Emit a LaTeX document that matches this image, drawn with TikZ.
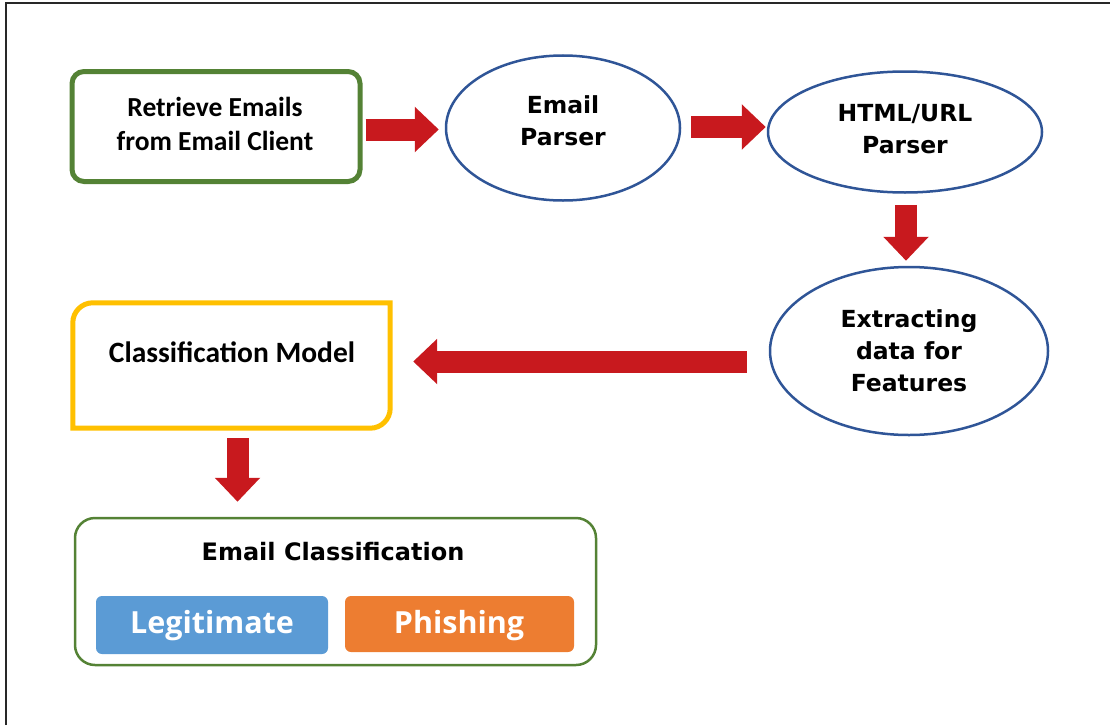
\documentclass[tikz,border=0pt]{standalone}
\usepackage{fontspec}
\usetikzlibrary{shapes.geometric,arrows.meta}
\newfontfamily\vfont{DejaVu Sans}
\newfontfamily\cfont{Carlito}
\newfontfamily\ofont{Open Sans}
\definecolor{grn}{RGB}{84,130,53}
\definecolor{blu}{RGB}{47,85,151}
\definecolor{rd}{RGB}{200,25,30}
\definecolor{ylw}{RGB}{255,192,0}
\definecolor{lblue}{RGB}{91,155,213}
\definecolor{orng}{RGB}{237,125,49}
\definecolor{frm}{RGB}{40,40,40}
\tikzset{
  vtext/.style={font=\vfont\bfseries\fontsize{23.5}{32}\selectfont, align=center},
  ell/.style={ellipse, draw=blu, line width=2.5pt, inner sep=0pt},
  barrow/.style={draw=rd, line width=22pt, -{Triangle[length=24pt,width=44pt]}},
  pill/.style={rounded corners=6pt, inner sep=0pt, text=white, font=\ofont\bfseries\fontsize{30.5}{32}\selectfont},
}
\begin{document}
\begin{tikzpicture}[x=1pt,y=-1pt]
\useasboundingbox (0,0) rectangle (1110,725);
\draw[frm, line width=1.5pt] (6,725) -- (6,3) -- (1110,3);
% nodes
\node[draw=grn, line width=5pt, rounded corners=12pt, minimum width=288pt, minimum height=110pt] (ret) at (216,126.5) {};
\node[align=center, font=\cfont\bfseries\fontsize{27.5}{34}\selectfont] (rett) at (215,124) {Retrieve Emails\\from Email Client};
\node[ell, minimum width=234pt, minimum height=145pt] (ep) at (563,128) {};
\node[vtext] (ept) at (563,120.5) {Email\\Parser};
\node[ell, minimum width=274pt, minimum height=121pt] (hu) at (905,132) {};
\node[vtext] (hut) at (905,129) {HTML/URL\\Parser};
\node[ell, minimum width=278pt, minimum height=168pt] (ex) at (909,351) {};
\node[vtext] (ext) at (909,351) {Extracting\\data for\\Features};
\node[minimum width=317pt, minimum height=125pt, inner sep=0pt] (cm) at (231.5,365.5) {};
\draw[ylw, line width=5pt] (cm.south west) -- ([yshift=-20pt]cm.north west) to[out=90,in=180] ([xshift=20pt]cm.north west)
   -- (cm.north east) -- ([yshift=20pt]cm.south east) to[out=-90,in=0] ([xshift=-20pt]cm.south east) -- cycle;
\node[font=\cfont\bfseries\fontsize{29.5}{34}\selectfont] (cmt) at (232,352) {Classification Model};
\node[draw=grn, line width=2.5pt, rounded corners=20pt, minimum width=521pt, minimum height=147pt] (ec) at (335.5,591.5) {};
\node[vtext, font=\vfont\bfseries\fontsize{24}{32}\selectfont] (ect) at (333,552) {Email Classification};
\node[pill, fill=lblue, minimum width=232pt, minimum height=58pt] (leg) at (212,625) {};
\node[text=white, font=\ofont\bfseries\fontsize{30.5}{32}\selectfont] (legt) at (212,626) {Legitimate};
\node[pill, fill=orng, minimum width=229pt, minimum height=56pt] (phi) at (459.5,624) {};
\node[text=white, font=\ofont\bfseries\fontsize{30.5}{32}\selectfont] (phit) at (459,626) {Phishing};
% arrows
\draw[barrow] ([xshift=3pt,yshift=-3pt]ret.east) -- ([xshift=-6pt,yshift=-3pt]ret.east -| ep.west);
\draw[barrow] ([xshift=10pt,yshift=1pt]ep.east) -- ([xshift=-1pt,yshift=1pt]ep.east -| hu.west);
\draw[barrow] ([xshift=1pt,yshift=-11pt]hu.south) -- ([xshift=1pt,yshift=5pt]hu.south |- ex.north);
\draw[barrow] ([xshift=-22pt,yshift=4pt]ex.west |- cm.east) -- ([xshift=23pt,yshift=4pt]cm.east);
\draw[barrow] ([xshift=6pt,yshift=-10pt]cm.south) -- ([xshift=6pt,yshift=15pt]cm.south |- ec.north);
\end{tikzpicture}
\end{document}
